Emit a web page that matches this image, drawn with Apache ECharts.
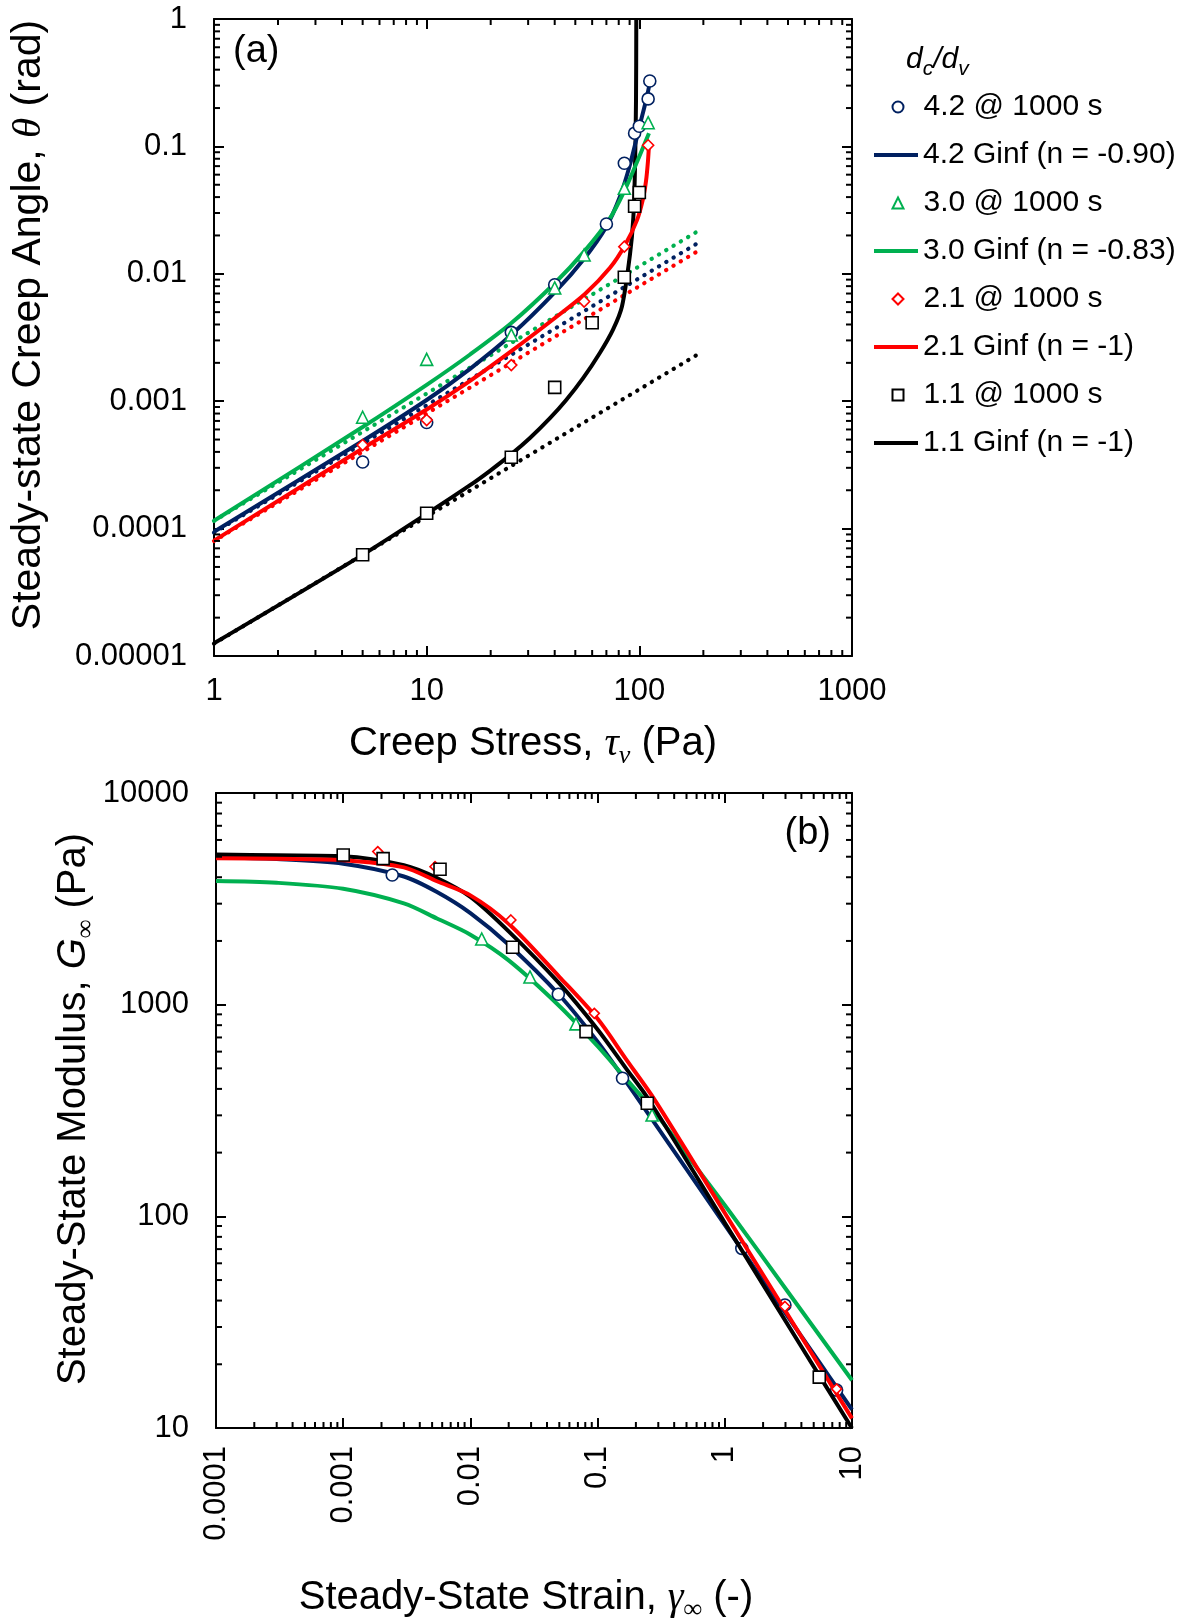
<!DOCTYPE html>
<html><head><meta charset="utf-8">
<script src="https://cdn.jsdelivr.net/npm/echarts@6/dist/echarts.min.js"></script>
<style>html,body{margin:0;padding:0;background:#fff}#c{width:1195px;height:1620px}</style>
</head><body><div id="c"></div>
<script>
// ---------------- Panel (a): creep stress (Pa) vs steady-state creep angle (rad)
const a42Pts = [[5,3.33e-4],[10,6.8e-4],[25,3.47e-3],[40,8.2e-3],[70,0.0246],[85,0.0737],[95,0.127],[100,0.144],[110,0.236],[112,0.326]];
const a30Pts = [[5,7.48e-4],[10,2.13e-3],[25,3.31e-3],[40,7.74e-3],[55,1.405e-2],[85,4.69e-2],[110,0.1535]];
const a21Pts = [[5,4.53e-4],[10,7.12e-4],[25,1.92e-3],[55,6.06e-3],[85,1.633e-2],[110,0.102]];
const a11Pts = [[5,6.24e-5],[10,1.318e-4],[25,3.63e-4],[40,1.285e-3],[60,4.13e-3],[85,9.39e-3],[95,0.0339],[100,0.0435]];

const a42Fit = [[1,9.46e-5],[5.02,4.89e-4],[10.04,1.026e-3],[16,1.796e-3],[25.1,3.333e-3],[40.1,7.17e-3],[55.5,0.01338],[69.7,0.02317],[81.1,0.04044],[90.4,0.0721],[100.7,0.1485],[108.6,0.2464],[113.4,0.3537]];
const a30Fit = [[1,1.153e-4],[5.02,6.30e-4],[10.04,1.350e-3],[16,2.326e-3],[25.1,4.124e-3],[40.1,8.47e-3],[55.5,0.01521],[72.8,0.02736],[85.6,0.0458],[97.5,0.07541],[111,0.1269]];
const a21Fit = [[1,8.04e-5],[5.02,4.27e-4],[10.04,8.64e-4],[16,1.443e-3],[25.1,2.481e-3],[40.1,4.497e-3],[55.5,6.94e-3],[72.8,0.01114],[85.6,0.01674],[97.5,0.02638],[104,0.03859],[107.5,0.0534],[109.8,0.0767],[111,0.1024]];
const a11Fit = [[1,1.258e-5],[5.02,6.25e-5],[10.04,1.311e-4],[16,2.191e-4],[19.85,2.842e-4],[25.1,3.858e-4],[30.6,5.14e-4],[38,7.355e-4],[45.2,1.017e-3],[54.4,1.516e-3],[65.3,2.402e-3],[75.2,3.648e-3],[82.9,5.567e-3],[90.4,0.01425],[93.7,0.02747],[95.4,0.06695],[96.45,0.2247],[96.76,1]];

const a42Pow = [[1,9.3e-5],[185,0.0171]];
const a30Pow = [[1,1.15e-4],[185,0.0212]];
const a21Pow = [[1,8.0e-5],[185,0.0148]];
const a11Pow = [[1,1.25e-5],[186,2.3e-3]];

// ---------------- Panel (b): steady-state strain (-) vs steady-state modulus (Pa)
const b42Pts = [[0.00243,4100],[0.0491,1120],[0.157,449],[1.36,70.6],[2.97,38.1],[7.57,15.1]];
const b30Pts = [[0.01228,2043],[0.0294,1352],[0.0676,811],[0.268,301]];
const b21Pts = [[0.00187,5286],[0.00527,4487],[0.0208,2512],[0.0942,910],[2.97,37.5],[7.57,15.3]];
const b11Pts = [[0.001,5096],[0.00206,4897],[0.00577,4365],[0.0215,1867],[0.0811,746],[0.246,342],[5.53,17.4]];

const b42Fit = [[1e-4,4970],[3e-4,4873],[1e-3,4631],[3e-3,4033],[5.46e-3,3407],[0.01,2709],[0.02,1920],[0.05,1111],[0.1,668.7],[0.1575,456.3],[0.2432,312.6],[1,91.1],[3.97,27.3],[10,12.2]];
const b30Fit = [[1e-4,3840],[3e-4,3766],[1e-3,3528],[3e-3,3010],[5.46e-3,2554],[0.01,2141],[0.02,1619],[0.05,986],[0.1,636.8],[0.1642,451.9],[0.2741,317.1],[0.5326,186.6],[1.099,104.6],[3.254,42.6],[10,16.82]];
const b21Fit = [[1e-4,4915],[3e-4,4889],[1e-3,4815],[3e-3,4452],[5.46e-3,3828],[0.01,3283],[0.02,2413],[0.05,1354],[0.1,857],[0.1672,552.8],[0.2827,353.2],[1,103.7],[3.97,27.2],[10,11.1]];
const b11Fit = [[1e-4,5117],[3e-4,5078],[1e-3,5028],[3e-3,4556],[5.46e-3,3968],[0.01,3230],[0.02,2220],[0.05,1260],[0.1,763.6],[0.1672,500.2],[0.2536,354.6],[1,93.3],[3.97,24.4],[10,9.98]];

// ---------------- Tick labels
const xLabelsA = ['1','10','100','1000'];
const yLabelsA = ['0.00001','0.0001','0.001','0.01','0.1','1'];
const xLabelsB = ['0.0001','0.001','0.01','0.1','1','10'];
const yLabelsB = ['10','100','1000','10000'];

const names = ['4.2 @ 1000 s','4.2 Ginf (n = -0.90)','3.0 @ 1000 s','3.0 Ginf (n = -0.83)','2.1 @ 1000 s','2.1 Ginf (n = -1)','1.1 @ 1000 s','1.1 Ginf (n = -1)'];
const legendIcons = ['circle','line','triangle','line','diamond','line','rect','line'];

const NAVY='#002060', GREEN='#00B050', RED='#FF0000', BLACK='#000000';
const FONT='Liberation Sans', SERIF='Liberation Serif';
const TICKFS = 31;

function labelFor(v, labels, minExp){ const k=Math.round(Math.log10(v))-minExp; return labels[k]!==undefined?labels[k]:''; }
function decadeMinors(e0,e1){ const out=[]; for(let e=e0;e<e1;e++) for(let k=2;k<=9;k++) out.push(+(k*Math.pow(10,e)).toPrecision(3)); return out; }

function axis(gi, min, max, pos, labels, minExp, extraLabel){
  const show = !!labels;
  return {gridIndex:gi, type:'log', logBase:10, min, max, position:pos,
    axisLine:{show:true,onZero:false,lineStyle:{color:'#000',width:2}},
    axisTick:{show:true,inside:true,length:10,lineStyle:{color:'#000',width:2}},
    axisLabel:Object.assign({show, fontSize:TICKFS, fontFamily:FONT, color:'#000', showMinLabel:true, showMaxLabel:true,
      formatter: show ? (v=>labelFor(v,labels,minExp)) : undefined}, extraLabel||{}),
    splitLine:{show:false}, minorTick:{show:false}, minorSplitLine:{show:false}};
}

function scatter(name,data,xi,yi,symbol,size,color,z){
  return {type:'scatter',name,data,xAxisIndex:xi,yAxisIndex:yi,symbol,symbolSize:size,
    itemStyle:{color:'#ffffff',borderColor:color,borderWidth:1.6,opacity:1},z:z||6,silent:true};
}
function fit(name,data,xi,yi,color,z){
  return {type:'line',name,data,xAxisIndex:xi,yAxisIndex:yi,showSymbol:false,symbol:'none',smooth:0.3,
    lineStyle:{color,width:4},itemStyle:{color},z:z||3,silent:true};
}
function dotted(data,xi,yi,color){
  return {type:'line',data,xAxisIndex:xi,yAxisIndex:yi,showSymbol:false,symbol:'none',
    lineStyle:{color,width:4.2,type:[0.3,8.2],cap:'round'},z:2,silent:true};
}
function minorTicks(xi,yi,xVals,yVals,xRef,yRef){
  const data = xVals.map(v=>[v,yRef,0]).concat(yVals.map(v=>[xRef,v,1]));
  return {type:'custom',xAxisIndex:xi,yAxisIndex:yi,data,silent:true,z:10,clip:false,
    renderItem(params,api){
      const cs=params.coordSys; const p=api.coord([api.value(0),api.value(1)]); const L=6;
      const st={stroke:'#000',lineWidth:2};
      if(api.value(2)===0){
        return {type:'group',children:[
          {type:'line',shape:{x1:p[0],y1:cs.y+cs.height,x2:p[0],y2:cs.y+cs.height-L},style:st},
          {type:'line',shape:{x1:p[0],y1:cs.y,x2:p[0],y2:cs.y+L},style:st}]};
      }
      return {type:'group',children:[
        {type:'line',shape:{x1:cs.x,y1:p[1],x2:cs.x+L,y2:p[1]},style:st},
        {type:'line',shape:{x1:cs.x+cs.width,y1:p[1],x2:cs.x+cs.width-L,y2:p[1]},style:st}]};
    }};
}

function richFor(fs){
  return {
    n:{fontSize:fs,fontFamily:FONT,color:'#000',lineHeight:50},
    g:{fontSize:fs,fontFamily:SERIF,fontStyle:'italic',color:'#000',lineHeight:50},
    gs:{fontSize:fs,fontFamily:FONT,fontStyle:'italic',color:'#000',lineHeight:50},
    s:{fontSize:Math.round(fs*0.66),fontFamily:SERIF,fontStyle:'italic',color:'#000',lineHeight:28,verticalAlign:'bottom'}
  };
}

const legendTextStyle = {fontSize:30,fontFamily:FONT,color:'#000'};
const legends = names.map((n,i)=>{
  const top = 92 + 48*i;
  if(legendIcons[i]==='line'){
    return {orient:'vertical',left:874,top,padding:0,itemWidth:44,itemHeight:4,symbolKeepAspect:false,selectedMode:false,
      textStyle:legendTextStyle,data:[{name:n,icon:'rect'}]};
  }
  return {orient:'vertical',left:891.5,top,padding:0,itemWidth:11,itemHeight:11,symbolKeepAspect:true,selectedMode:false,
    textStyle:Object.assign({padding:[0,0,0,15]},legendTextStyle),data:[{name:n,icon:legendIcons[i]}]};
});

const chart = echarts.init(document.getElementById('c'),null,{renderer:'canvas'});
chart.setOption({
  animation:false,
  backgroundColor:'#ffffff',
  grid:[{left:214,top:19,width:638,height:637},{left:216,top:793,width:636,height:635}],
  xAxis:[
    axis(0,1,1000,'bottom',xLabelsA,0,{margin:20}),
    axis(0,1,1000,'top',null),
    axis(1,1e-4,10,'bottom',xLabelsB,-4,{margin:18,rotate:90}),
    axis(1,1e-4,10,'top',null)
  ],
  yAxis:[
    axis(0,1e-5,1,'left',yLabelsA,-5,{margin:27}),
    axis(0,1e-5,1,'right',null),
    axis(1,10,10000,'left',yLabelsB,1,{margin:27}),
    axis(1,10,10000,'right',null)
  ],
  legend:legends,
  series:[
    dotted(a11Pow,0,0,BLACK), dotted(a21Pow,0,0,RED), dotted(a42Pow,0,0,NAVY), dotted(a30Pow,0,0,GREEN),
    fit(names[7],a11Fit,0,0,BLACK,3), fit(names[5],a21Fit,0,0,RED,4), fit(names[1],a42Fit,0,0,NAVY,4), fit(names[3],a30Fit,0,0,GREEN,4),
    scatter(names[0],a42Pts,0,0,'circle',12,NAVY),
    scatter(names[2],a30Pts,0,0,'triangle',12,GREEN),
    scatter(names[4],a21Pts,0,0,'diamond',11,RED),
    scatter(names[6],a11Pts,0,0,'rect',12,BLACK),
    fit(names[1],b42Fit,2,2,NAVY,3), fit(names[3],b30Fit,2,2,GREEN,3), fit(names[7],b11Fit,2,2,BLACK,4), fit(names[5],b21Fit,2,2,RED,4),
    scatter(names[0],b42Pts,2,2,'circle',12,NAVY,3.5),
    scatter(names[2],b30Pts,2,2,'triangle',12,GREEN),
    scatter(names[4],b21Pts,2,2,'diamond',10,RED),
    scatter(names[6],b11Pts,2,2,'rect',12,BLACK),
    minorTicks(0,0,decadeMinors(0,3),decadeMinors(-5,0),10,1e-3),
    minorTicks(2,2,decadeMinors(-4,1),decadeMinors(1,4),1e-2,100)
  ],
  graphic:[
    {type:'text',x:533,y:744,style:{text:'{n|Creep Stress, }{g|τ}{s|v}{n| (Pa)}',rich:richFor(40),align:'center',verticalAlign:'middle'}},
    {type:'text',x:29,y:325,rotation:Math.PI/2,style:{text:'{n|Steady-state Creep Angle, }{g|θ}{n| (rad)}',rich:richFor(41),align:'center',verticalAlign:'middle'}},
    {type:'text',x:526,y:1598,style:{text:'{n|Steady-State Strain, }{g|γ}{s|∞}{n| (-)}',rich:richFor(40),align:'center',verticalAlign:'middle'}},
    {type:'text',x:74,y:1109,rotation:Math.PI/2,style:{text:'{n|Steady-State Modulus, }{gs|G}{s|∞}{n| (Pa)}',rich:richFor(40),align:'center',verticalAlign:'middle'}},
    {type:'text',x:233,y:52,style:{text:'(a)',fontSize:38,fontFamily:FONT,fill:'#000',align:'left',verticalAlign:'middle'}},
    {type:'text',x:831,y:834,style:{text:'(b)',fontSize:38,fontFamily:FONT,fill:'#000',align:'right',verticalAlign:'middle'}},
    {type:'text',x:906,y:60,style:{text:'{d|d}{s|c}{d|/d}{s|v}',align:'left',verticalAlign:'middle',rich:{
      d:{fontSize:30,fontFamily:FONT,fontStyle:'italic',color:'#000',lineHeight:40},
      s:{fontSize:21,fontFamily:FONT,fontStyle:'italic',color:'#000',lineHeight:22,verticalAlign:'bottom'}}}}
  ]
});
</script></body></html>
